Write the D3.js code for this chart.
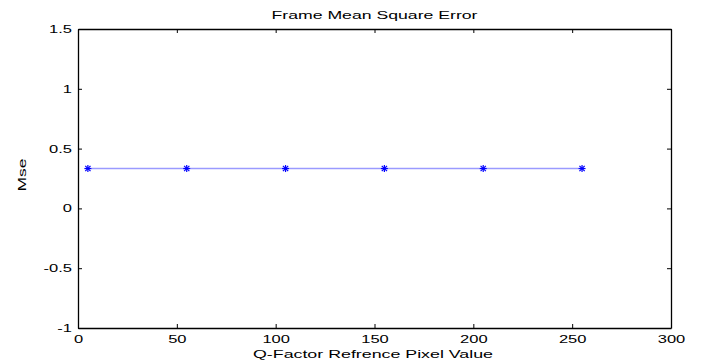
<!DOCTYPE html>
<html><head><meta charset="utf-8">
<script src="https://cdn.jsdelivr.net/npm/d3@7"></script>
<style>body{margin:0;background:#fff}svg{display:block}text{font-family:"Liberation Sans",Arial,sans-serif}</style>
</head><body>
<svg id="c" width="701" height="361"></svg>
<script>
const xValues = [5, 55, 105, 155, 205, 255];
const mseValues = [0.3333, 0.3333, 0.3333, 0.3333, 0.3333, 0.3333];
const xTicks = [0, 50, 100, 150, 200, 250, 300];
const yTicks = [-1, -0.5, 0, 0.5, 1, 1.5];
const titleText = "Frame Mean Square Error";
const xLabel = "Q-Factor Refrence Pixel Value";
const yLabel = "Mse";

const svg = d3.select("#c");
const L = 78, R = 671, T = 29, B = 328;
const x = d3.scaleLinear().domain([0, 300]).range([L, R]);
const y = d3.scaleLinear().domain([-1, 1.5]).range([B, T]);
const FONT = '"Liberation Sans",Arial,sans-serif';

function stretch(sel, factor) {
  sel.each(function () {
    const w = this.getComputedTextLength();
    if (w > 0) d3.select(this).attr("textLength", w * factor).attr("lengthAdjust", "spacingAndGlyphs");
  });
}

const fmt = d => String(d);
const tk = 4;
const gb = svg.append("g").attr("transform", `translate(0,${B})`)
  .call(d3.axisBottom(x).tickValues(xTicks).tickFormat(fmt).tickSizeInner(-tk).tickSizeOuter(0).tickPadding(7));
const gt = svg.append("g").attr("transform", `translate(0,${T})`)
  .call(d3.axisTop(x).tickValues(xTicks).tickFormat("").tickSizeInner(-tk).tickSizeOuter(0));
const gl = svg.append("g").attr("transform", `translate(${L},0)`)
  .call(d3.axisLeft(y).tickValues(yTicks).tickFormat(fmt).tickSizeInner(-tk).tickSizeOuter(0).tickPadding(6));
const gr = svg.append("g").attr("transform", `translate(${R},0)`)
  .call(d3.axisRight(y).tickValues(yTicks).tickFormat("").tickSizeInner(-tk).tickSizeOuter(0));
[gb, gt, gl, gr].forEach(g => {
  g.select(".domain").attr("stroke", "#000").attr("stroke-width", 1.3);
  g.selectAll(".tick line").attr("stroke", "#000");
  g.selectAll("text").attr("font-size", 11).attr("fill", "#000").style("font-family", FONT);
});
stretch(gb.selectAll(".tick text"), 1.5);
stretch(gl.selectAll(".tick text"), 1.5);

// line
const line = d3.line().x((d, i) => x(xValues[i])).y(d => y(d));
svg.append("path").datum(mseValues).attr("d", line)
  .attr("fill", "none").attr("stroke", "#9a9aff").attr("stroke-width", 1.5);

// asterisk markers
const s = 3.5;
const star = svg.append("g").attr("stroke", "#0000ff").attr("stroke-width", 1.2);
mseValues.forEach((v, i) => {
  const cx = x(xValues[i]), cy = y(v);
  const g = star.append("g").attr("transform", `translate(${cx},${cy})`);
  g.append("line").attr("x1", -s).attr("x2", s).attr("y1", 0).attr("y2", 0);
  g.append("line").attr("x1", 0).attr("x2", 0).attr("y1", -s).attr("y2", s);
  g.append("line").attr("x1", -s*0.75).attr("x2", s*0.75).attr("y1", -s*0.75).attr("y2", s*0.75);
  g.append("line").attr("x1", -s*0.75).attr("x2", s*0.75).attr("y1", s*0.75).attr("y2", -s*0.75);
});

svg.append("text").attr("x", 374.5).attr("y", 18.5).attr("text-anchor", "middle")
  .attr("font-size", 11).attr("textLength", 206).attr("lengthAdjust", "spacingAndGlyphs").text(titleText);
svg.append("text").attr("x", 373).attr("y", 358).attr("text-anchor", "middle")
  .attr("font-size", 11).attr("textLength", 240).attr("lengthAdjust", "spacingAndGlyphs").text(xLabel);
svg.append("text").attr("transform", `translate(26,175) rotate(-90)`).attr("text-anchor", "middle")
  .attr("font-size", 11).attr("textLength", 33).attr("lengthAdjust", "spacingAndGlyphs").text(yLabel);
</script>
</body></html>
